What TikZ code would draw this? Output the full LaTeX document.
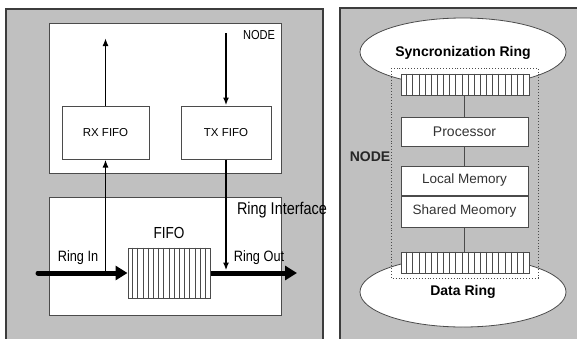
\documentclass[tikz,border=0pt]{standalone}
\usepackage{fontspec}
\setmainfont{Liberation Sans}
\newfontfamily\narrowsf[FakeStretch=0.85]{Liberation Sans}
\usetikzlibrary{positioning,arrows.meta,calc,shapes.geometric}
\definecolor{panelgray}{RGB}{192,192,192}
\definecolor{edgegray}{RGB}{60,60,60}
\definecolor{boxline}{RGB}{75,75,75}
\newcommand{\fsz}[1]{\fontsize{#1}{#1}\selectfont}
\tikzset{
  panel/.style    ={fill=panelgray},
  rim/.style      ={draw=edgegray, line width=1.5pt},
  box/.style      ={draw=boxline, fill=white, line width=1pt, inner sep=0pt},
  fifobox/.style  ={box, font=\fsz{11.5}},
  hatch/.style    ={draw=boxline, line width=0.8pt},
  ring/.style     ={ellipse, draw=boxline, fill=white, line width=0.8pt,
                    inner sep=0pt, font=\bfseries\fsz{14}},
  unit/.style     ={box, text=black!80, font=\fsz{13.5}},
  lbl/.style      ={font=\narrowsf\fsz{15}, inner sep=0pt},
  thinarr/.style  ={-{Latex[length=8pt,width=6pt]}, line width=1.8pt},
  thickarr/.style ={-{Triangle[length=12pt,width=14pt]}, line width=5pt},
  wire/.style     ={draw=boxline, line width=1pt},
}

\begin{document}
\begin{tikzpicture}[x=1pt,y=-1pt]
  \useasboundingbox (0,0) rectangle (577,338);

  % ---- the two panels -------------------------------------------------
  \fill[panel] (6,9) rectangle (323,345);
  \draw[rim] (6,345) -- (6,9) -- (323,9) -- (323,345);
  \fill[panel] (340,8) rectangle (580,345);
  \draw[rim] (340,345) -- (340,8) -- (580,8);

  % ---- left: node and ring interface ----------------------------------
  \node[box, minimum width=232pt, minimum height=150pt] (node) at (165,98) {};
  \node[box, minimum width=232pt, minimum height=118pt] (ringif) at (165,256) {};
  \node[lbl, font=\narrowsf\fsz{13}] (nodelbl) at (259,35) {NODE};
  \node[lbl, font=\narrowsf\fsz{17}] (iflbl) at (282,210) {Ring Interface};

  \node[fifobox, minimum width=87pt, minimum height=53pt] (rx) at (105.5,132.5) {RX FIFO};
  \node[fifobox, minimum width=90pt, minimum height=53pt] (tx) at (226,132.5) {TX FIFO};
  \coordinate (rxup) at (105.5,38);
  \coordinate (txin) at (226,33);

  \node[box, minimum width=82pt, minimum height=50pt] (fifo) at (169,273) {};
  \foreach \i in {1,...,15}
    \draw[hatch] ($(fifo.north west)!\i/16!(fifo.north east)$)
              -- ($(fifo.south west)!\i/16!(fifo.south east)$);
  \node[lbl, font=\narrowsf\fsz{16}, above=9pt of fifo] (fifolbl) {FIFO};

  \coordinate (ringin) at (38,273);
  \coordinate (ringout) at (297,273);
  \node[lbl] (inlbl) at (78,258) {Ring In};
  \node[lbl] (outlbl) at (259,258) {Ring Out};

  \draw[thickarr, line cap=round] (ringin) -- (fifo.west);
  \draw[thickarr] (fifo.east) -- (ringout);
  \draw[thinarr] (rx.north) -- (rxup);
  \draw[thinarr] (txin) -- (tx.north);
  \draw[thinarr] (rx.south |- fifo.west) -- (rx.south);
  \draw[thinarr, shorten >=2.5pt] (tx.south) -- (tx.south |- fifo.east);

  % ---- right: rings and processing node -------------------------------
  \node[ring, minimum width=206pt, minimum height=68pt] (sync) at (463,52) {};
  \node[ring, minimum width=206pt, minimum height=70pt] (data) at (463,292) {};
  \node[font=\bfseries\fsz{14}] at (463,53) {Syncronization Ring};
  \node[font=\bfseries\fsz{14}] at (463,292) {Data Ring};

  \draw[draw=boxline, dotted, line width=0.9pt] (391,68) rectangle (538,278);
  \node[font=\bfseries\fsz{14}, text=black!85] (nodelbl2) at (370,157) {NODE};

  \node[box, minimum width=128pt, minimum height=21pt] (topbar) at (465,84.5) {};
  \node[box, minimum width=128pt, minimum height=21pt] (botbar) at (465,262.5) {};
  \foreach \bar in {topbar,botbar}
    \foreach \i in {1,...,20}
      \draw[hatch] ($(\bar.north west)!\i/21!(\bar.north east)$)
                -- ($(\bar.south west)!\i/21!(\bar.south east)$);

  \node[unit, minimum width=127pt, minimum height=29pt, font=\fsz{14}] (proc) at (464.5,131.5) {Processor};
  \node[unit, minimum width=127pt, minimum height=29pt] (local) at (464.5,180.5) {Local Memory};
  \node[unit, minimum width=127pt, minimum height=31pt, below=0pt of local] (shared) {Shared Meomory};

  \draw[wire] (topbar.south -| proc.north) -- (proc.north);
  \draw[wire] (proc.south) -- (local.north);
  \draw[wire] (shared.south) -- (shared.south |- botbar.north);
\end{tikzpicture}
\end{document}
